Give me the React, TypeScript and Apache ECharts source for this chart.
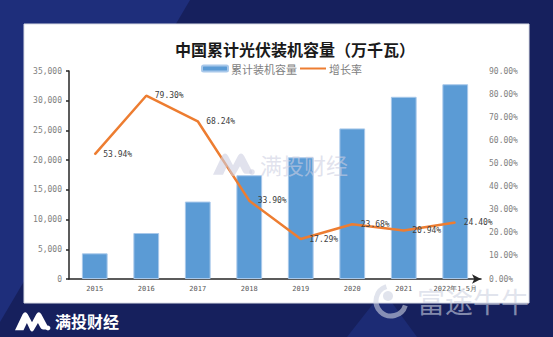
import React, { useEffect, useRef } from "react";
import * as echarts from "echarts";

const categories = ["2015", "2016", "2017", "2018", "2019", "2020", "2021", "2022年1-5月"];
const capacity = [4320, 7740, 13030, 17460, 20470, 25340, 30660, 32770];
const growth = [53.94, 79.3, 68.24, 33.9, 17.29, 23.68, 20.94, 24.4];
const leftTicks = { min: 0, max: 35000, interval: 5000 };
const rightTicks = { min: 0, max: 90, interval: 10 };

const LOGO_D =
  "M0 24 L9 4 Q12 -1 15 4 L20 14 L25 4 Q28 -1 31 4 L39 20 Q40 23 37 23 L33 23 Q31 23 30 21 L27 15 L22 24 Q20 27 18 24 L14 15 L10 24 Z";
let registered = false;
function registerShapes() {
  if (registered) return;
  registered = true;
  echarts.graphic.registerShape("mtlogo", echarts.graphic.extendPath(LOGO_D, {}) as any);
}

const mono = "DejaVu Sans Mono";
const cjk = "Noto Sans CJK SC";

export default function App() {
  const ref = useRef<HTMLDivElement>(null);
  useEffect(() => {
    registerShapes();
    const chart = echarts.init(ref.current!, undefined, { renderer: "svg" });
    chart.setOption({
      animation: false,
      backgroundColor: "#16205d",
      title: {
        text: "中国累计光伏装机容量（万千瓦）",
        left: 170,
        top: 36,
        textStyle: { fontFamily: cjk, fontSize: 16, fontWeight: "bold", color: "#1a1a1a" },
      },
      legend: {
        left: 196,
        top: 58,
        itemWidth: 26,
        itemHeight: 6,
        itemGap: 2,
        textStyle: { fontFamily: cjk, fontSize: 11, color: "#7f7f7f", padding: [0, 0, 0, -2] },
        data: [
          { name: "累计装机容量" },
          { name: "增长率", itemStyle: { opacity: 0 } },
        ],
      },
      graphic: [
        {
          type: "polygon",
          z: -10,
          shape: { points: [[0, 0], [190, 0], [0, 322]] },
          style: { fill: "#1e2e7b" },
        },
        {
          type: "polygon",
          z: -10,
          shape: { points: [[347, 337], [376, 300], [390, 300], [417, 337]] },
          style: { fill: "#1c2b74" },
        },
        {
          type: "rect",
          z: -5,
          shape: { x: 24, y: 24, width: 505, height: 279 },
          style: { fill: "#ffffff", stroke: "#d9dce6", lineWidth: 1 },
        },
        {
          type: "mtlogo",
          z: 100,
          x: 213,
          y: 152,
          scaleX: 1.0,
          scaleY: 0.95,
          style: { fill: "rgba(205,207,225,0.6)" },
        },
        {
          type: "circle",
          z: 100,
          shape: { cx: 252, cy: 172, r: 2.8 },
          style: { fill: "rgba(205,207,225,0.6)" },
        },
        {
          type: "text",
          z: 100,
          x: 260,
          y: 164,
          style: {
            text: "满投财经",
            fontFamily: cjk,
            fontSize: 22,
            verticalAlign: "middle",
            fill: "rgba(205,207,225,0.6)",
          },
        },
        {
          type: "mtlogo",
          z: 100,
          x: 15,
          y: 311,
          scaleX: 0.85,
          scaleY: 0.8,
          style: { fill: "#ffffff" },
        },
        {
          type: "circle",
          z: 100,
          shape: { cx: 48, cy: 328, r: 2.4 },
          style: { fill: "#ffffff" },
        },
        {
          type: "text",
          z: 100,
          x: 55,
          y: 321,
          style: {
            text: "满投财经",
            fontFamily: cjk,
            fontSize: 16,
            fontWeight: "bold",
            verticalAlign: "middle",
            fill: "#ffffff",
          },
        },
        {
          type: "arc",
          z: 100,
          shape: { cx: 391, cy: 301, r: 15, startAngle: 0.3, endAngle: 4.4 },
          style: { stroke: "rgba(205,210,225,0.6)", lineWidth: 5, fill: "none" },
        },
        {
          type: "circle",
          z: 100,
          shape: { cx: 388, cy: 296, r: 5 },
          style: { fill: "rgba(205,210,225,0.6)" },
        },
        {
          type: "text",
          z: 100,
          x: 417,
          y: 301,
          style: {
            text: "富途牛牛",
            fontFamily: cjk,
            fontSize: 28,
            verticalAlign: "middle",
            fill: "rgba(205,210,225,0.6)",
          },
        },
      ],
      grid: { left: 69, right: 72, top: 71, bottom: 58, containLabel: false },
      xAxis: {
        type: "category",
        data: categories,
        axisLine: {
          show: true,
          symbol: ["none", "arrow"],
          symbolSize: [7, 9],
          lineStyle: { color: "#262626", width: 1.5 },
        },
        axisTick: { show: false },
        axisLabel: { interval: 0, fontFamily: mono, fontSize: 7, color: "#595959", margin: 6 },
      },
      yAxis: [
        {
          type: "value",
          ...leftTicks,
          splitLine: { show: false },
          axisLine: { show: true, lineStyle: { color: "#262626", width: 1.5 } },
          axisTick: { show: true, length: 3, lineStyle: { color: "#262626", width: 1.5 } },
          axisLabel: {
            fontFamily: mono,
            fontSize: 8,
            color: "#7f7f7f",
            margin: 7,
            formatter: (v: number) => v.toLocaleString("en-US"),
          },
        },
        {
          type: "value",
          ...rightTicks,
          splitLine: { show: false },
          axisLine: { show: false },
          axisTick: { show: false },
          axisLabel: {
            fontFamily: mono,
            fontSize: 8,
            color: "#7f7f7f",
            margin: 8,
            formatter: (v: number) => v.toFixed(2) + "%",
          },
        },
      ],
      series: [
        {
          name: "累计装机容量",
          type: "bar",
          data: capacity,
          barWidth: "50%",
          itemStyle: { color: "#5b9bd5", borderColor: "#a8c8ea", borderWidth: 1 },
        },
        {
          name: "增长率",
          type: "line",
          yAxisIndex: 1,
          data: growth,
          symbol: "circle",
          symbolSize: 1,
          itemStyle: { color: "#ed7d31" },
          lineStyle: { color: "#ed7d31", width: 2.5 },
          label: {
            show: true,
            position: "right",
            distance: 8,
            fontFamily: mono,
            fontSize: 8,
            color: "#404040",
            formatter: (p: any) => Number(p.value).toFixed(2) + "%",
          },
        },
      ],
    });
    return () => chart.dispose();
  }, []);
  return (
    <div
      ref={ref}
      style={{ position: "fixed", left: 0, top: 0, width: 553, height: 337 }}
    />
  );
}
